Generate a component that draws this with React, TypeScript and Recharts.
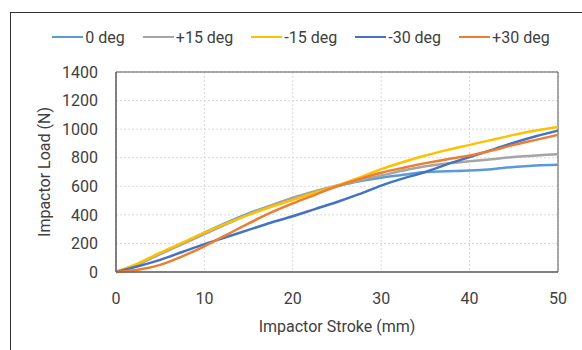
import {
  LineChart,
  Line,
  XAxis,
  YAxis,
  CartesianGrid,
  Legend,
  ReferenceArea,
} from "recharts";

// stroke positions (mm)
const stroke = [0, 2.5, 5, 7.5, 10, 12.5, 15, 17.5, 20, 22.5, 25, 27.5, 30, 32.5, 35, 37.5, 40, 42.5, 45, 47.5, 50];

// impactor load (N) per angle
const deg0 = [0, 55, 130, 200, 275, 345, 410, 465, 515, 560, 600, 635, 660, 680, 700, 705, 710, 720, 735, 745, 750];
const degPlus15 = [0, 55, 125, 195, 265, 335, 405, 465, 520, 565, 605, 640, 675, 710, 740, 760, 775, 790, 805, 815, 825];
const degMinus15 = [0, 60, 135, 205, 275, 340, 400, 455, 505, 555, 605, 660, 720, 770, 815, 855, 890, 925, 960, 990, 1015];
const degMinus30 = [0, 40, 85, 140, 195, 245, 295, 345, 390, 440, 490, 545, 605, 655, 700, 755, 805, 855, 905, 950, 990];
const degPlus30 = [0, 15, 50, 110, 180, 260, 340, 415, 480, 540, 600, 650, 695, 730, 762, 790, 815, 850, 890, 925, 960];

const xTicks = [0, 10, 20, 30, 40, 50];
const yTicks = [0, 200, 400, 600, 800, 1000, 1200, 1400];

const series = [
  { key: "0 deg", values: deg0, color: "#5B9BD5" },
  { key: "+15 deg", values: degPlus15, color: "#A5A5A5" },
  { key: "-15 deg", values: degMinus15, color: "#FFC000" },
  { key: "-30 deg", values: degMinus30, color: "#4472C4" },
  { key: "+30 deg", values: degPlus30, color: "#ED7D31" },
];

const data = stroke.map((s, i) => {
  const row: Record<string, number> = { stroke: s };
  series.forEach((d) => (row[d.key] = d.values[i]));
  return row;
});

const font = "Roboto, sans-serif";
const textColor = "#404040";

function LegendRow() {
  return (
    <div
      style={{
        display: "flex",
        justifyContent: "center",
        alignItems: "center",
        gap: 18,
        height: 20,
        paddingLeft: 20,
        fontFamily: font,
        fontSize: 16,
        color: textColor,
      }}
    >
      {series.map((s) => (
        <div key={s.key} style={{ display: "flex", alignItems: "center" }}>
          <span style={{ display: "inline-block", width: 31, height: 2, background: s.color, marginRight: 2 }} />
          <span>{s.key}</span>
        </div>
      ))}
    </div>
  );
}

export default function App() {
  return (
    <div style={{ position: "absolute", left: 0, top: 0, width: 582, height: 350, overflow: "hidden", background: "#fff" }}>
      <div style={{ position: "absolute", left: 10, top: 12, width: 620, height: 400, border: "1px solid #333" }} />
      <LineChart
        width={582}
        height={350}
        data={data}
        margin={{ top: 52, right: 24, left: 0, bottom: 48 }}
      >
        <CartesianGrid stroke="#d9d9d9" strokeDasharray="2 2" />
        <XAxis
          dataKey="stroke"
          type="number"
          domain={[0, 50]}
          ticks={xTicks}
          interval={0}
          tickLine={false}
          axisLine={{ stroke: "#595959" }}
          tickMargin={15}
          tick={{ fill: textColor, fontSize: 16, fontFamily: font }}
          label={{ value: "Impactor Stroke (mm)", position: "insideBottom", offset: -30, fill: textColor, fontSize: 16, fontFamily: font }}
        />
        <YAxis
          type="number"
          domain={[0, 1400]}
          ticks={yTicks}
          interval={0}
          width={116}
          tickLine={false}
          axisLine={{ stroke: "#595959" }}
          tickMargin={12}
          tick={{ fill: textColor, fontSize: 16, fontFamily: font }}
          label={{ value: "Impactor Load (N)", angle: -90, position: "insideLeft", offset: 44, style: { textAnchor: "middle" }, fill: textColor, fontSize: 16, fontFamily: font }}
        />
        <ReferenceArea x1={0} x2={50} y1={0} y2={1400} fill="none" stroke="#595959" strokeWidth={1} />
        <Legend verticalAlign="top" content={() => <LegendRow />} wrapperStyle={{ top: 27, left: 0, width: 582 }} />
        {series.map((s) => (
          <Line
            key={s.key}
            type="monotone"
            dataKey={s.key}
            stroke={s.color}
            strokeWidth={2.5}
            dot={false}
            isAnimationActive={false}
          />
        ))}
      </LineChart>
    </div>
  );
}
